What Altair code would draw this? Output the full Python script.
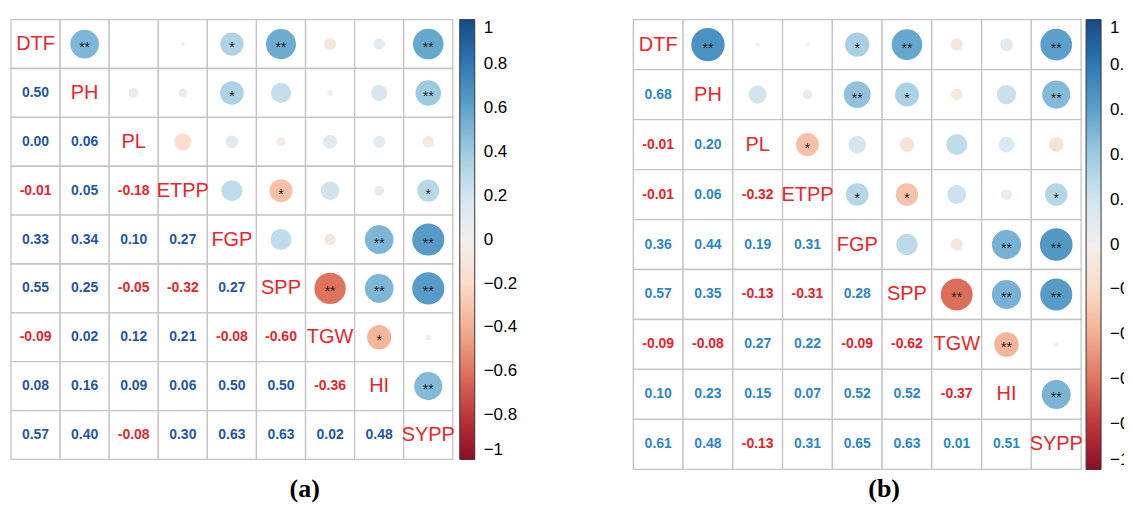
import altair as alt
import pandas as pd

variables = ["DTF", "PH", "PL", "ETPP", "FGP", "SPP", "TGW", "HI", "SYPP"]

# lower-triangle correlations, row i (from PH on), columns DTF..(i-1)
corr_a = [
    [0.50],
    [0.00, 0.06],
    [-0.01, 0.05, -0.18],
    [0.33, 0.34, 0.10, 0.27],
    [0.55, 0.25, -0.05, -0.32, 0.27],
    [-0.09, 0.02, 0.12, 0.21, -0.08, -0.60],
    [0.08, 0.16, 0.09, 0.06, 0.50, 0.50, -0.36],
    [0.57, 0.40, -0.08, 0.30, 0.63, 0.63, 0.02, 0.48],
]
sig_a = [
    ["**"],
    ["", ""],
    ["", "", ""],
    ["*", "*", "", ""],
    ["**", "", "", "*", ""],
    ["", "", "", "", "", "**"],
    ["", "", "", "", "**", "**", "*"],
    ["**", "**", "", "*", "**", "**", "", "**"],
]
corr_b = [
    [0.68],
    [-0.01, 0.20],
    [-0.01, 0.06, -0.32],
    [0.36, 0.44, 0.19, 0.31],
    [0.57, 0.35, -0.13, -0.31, 0.28],
    [-0.09, -0.08, 0.27, 0.22, -0.09, -0.62],
    [0.10, 0.23, 0.15, 0.07, 0.52, 0.52, -0.37],
    [0.61, 0.48, -0.13, 0.31, 0.65, 0.63, 0.01, 0.51],
]
sig_b = [
    ["**"],
    ["", ""],
    ["", "", "*"],
    ["*", "**", "", "*"],
    ["**", "*", "", "*", ""],
    ["", "", "", "", "", "**"],
    ["", "", "", "", "**", "**", "**"],
    ["**", "**", "", "*", "**", "**", "", "**"],
]
legend_ticks = [-1, -0.8, -0.6, -0.4, -0.2, 0, 0.2, 0.4, 0.6, 0.8, 1]


def build(corr, sig):
    recs = []
    for i, v in enumerate(variables):
        for j, u in enumerate(variables):
            if i == j:
                recs.append(dict(row=v, col=u, kind="diag", r=1.0, s="", lab=v))
            elif j < i:
                r = corr[i - 1][j]
                recs.append(dict(row=v, col=u, kind="lower", r=r, s=sig[i - 1][j], lab=f"{r:.2f}"))
            else:
                r = corr[j - 1][i]
                recs.append(dict(row=v, col=u, kind="upper", r=r, s=sig[j - 1][i], lab=""))
    return pd.DataFrame(recs)


def panel(df, w, h, blue, red, name, dx, off, loff):
    X = alt.X("col:N", sort=variables, axis=None,
              scale=alt.Scale(paddingInner=0, paddingOuter=0))
    Y = alt.Y("row:N", sort=variables, axis=None,
              scale=alt.Scale(paddingInner=0, paddingOuter=0))
    base = alt.Chart(df).encode(x=X, y=Y)
    grid = base.mark_rect(fill="white", stroke="#c4c4c4", strokeWidth=1.3)
    upper = base.transform_filter(alt.datum.kind == "upper")
    circ = upper.transform_calculate(a="abs(datum.r)").mark_circle(opacity=1).encode(
        color=alt.Color(
            "r:Q",
            scale=alt.Scale(scheme="redblue", domain=[-1, 1]),
            legend=alt.Legend(
                title=None, orient="right", offset=loff, direction="vertical",
                gradientLength=h, gradientThickness=15, values=legend_ticks,
                format=".1~f", labelFontSize=17, labelFont="Liberation Sans",
                labelColor="black", gradientStrokeColor="#333",
                gradientStrokeWidth=1, labelOverlap=False, padding=0,
                labelOffset=9,
            ),
        ),
        size=alt.Size("a:Q", scale=alt.Scale(domain=[0, 1], range=[0, 1650]), legend=None),
    )
    stars = upper.transform_filter(alt.datum.s != "").mark_text(
        fontSize=14, color="#222", dy=4, font="Liberation Sans"
    ).encode(text="s:N")
    nums = base.transform_filter(alt.datum.kind == "lower").mark_text(
        font="Liberation Sans Narrow, Liberation Sans", fontWeight="bold", fontSize=14
    ).encode(
        text="lab:N",
        color=alt.condition(alt.datum.r < 0, alt.value(red), alt.value(blue)),
    )
    diag = base.transform_filter(alt.datum.kind == "diag").mark_text(
        fontSize=20, color="#e8262c", font="Liberation Sans"
    ).encode(text="lab:N")
    return alt.layer(grid, circ, stars, nums, diag).properties(
        width=w, height=h,
        title=alt.TitleParams(name, orient="bottom", anchor="middle", frame="group",
                              dx=dx, offset=off, font="Liberation Serif",
                              fontSize=26, fontWeight="bold", color="black"),
    )


pa = panel(build(corr_a, sig_a), 443, 441, "#2356a0", "#e0262e", "(a)", 73, 16, 7)
pb = panel(build(corr_b, sig_b), 449, 451, "#2b86c6", "#e8202a", "(b)", 27, 6, 5)

chart = alt.hconcat(pa, pb, spacing=115).resolve_scale(
    color="independent", size="independent"
).properties(
    padding={"left": 2, "top": 10, "right": -20, "bottom": 0}
).configure_view(stroke=None)

chart.save("out.html", embed_options={"renderer": "svg", "actions": False})
